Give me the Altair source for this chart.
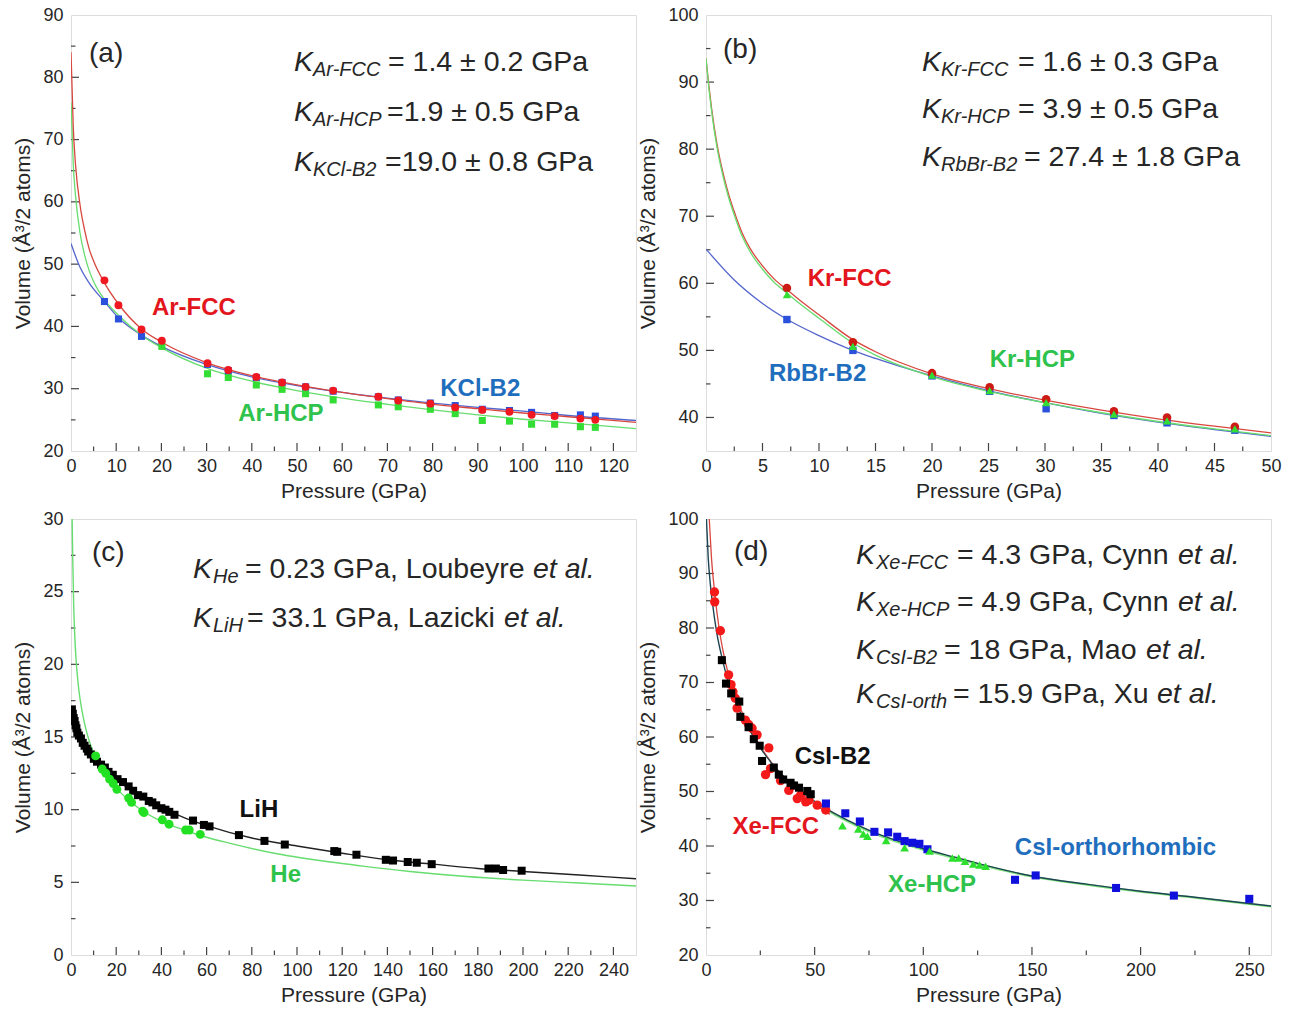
import altair as alt
import pandas as pd

FONT = "Liberation Sans"
INK = "#262626"

# ---------------- Panel (a): Ar / KCl ----------------
A_P_FCC = [7.4, 10.5, 15.6, 20.1, 30.2, 34.8, 41.0, 46.7, 51.9, 58.0, 68.0, 72.4, 79.5, 85.0, 91.0, 97.0, 101.9, 107.0, 112.7, 116.0]
A_V_FCC = [47.4, 43.4, 39.5, 37.7, 34.1, 33.0, 31.9, 31.0, 30.3, 29.7, 28.7, 28.1, 27.6, 27.0, 26.6, 26.3, 25.8, 25.6, 25.2, 25.0]
A_P_KCL = [7.4, 10.5, 15.6, 30.2, 34.8, 41.0, 46.7, 51.9, 58.0, 68.0, 72.4, 79.5, 85.0, 91.0, 97.0, 101.9, 107.0, 112.7, 116.0]
A_V_KCL = [44.0, 41.2, 38.4, 33.9, 32.9, 31.8, 31.0, 30.3, 29.6, 28.7, 28.2, 27.7, 27.3, 26.7, 26.5, 26.2, 25.7, 25.8, 25.6]
A_P_HCP = [20.1, 30.2, 34.8, 41.0, 46.7, 51.9, 58.0, 68.0, 72.4, 79.5, 85.0, 91.0, 97.0, 101.9, 107.0, 112.7, 116.0]
A_V_HCP = [36.8, 32.4, 31.8, 30.6, 29.9, 29.2, 28.2, 27.4, 27.1, 26.7, 26.0, 24.9, 24.8, 24.3, 24.3, 23.9, 23.8]
# fitted curves
A_CP_FCC = [0, 0.5, 1, 2, 3, 4, 5, 7.4, 10.5, 15.6, 20, 30, 40, 50, 60, 70, 80, 90, 100, 110, 125]
A_CV_FCC = [84, 72, 66, 59.5, 55.5, 52.5, 50.5, 47.0, 43.6, 39.6, 37.5, 34.2, 32.1, 30.6, 29.4, 28.4, 27.5, 26.8, 26.1, 25.5, 24.6]
A_CP_HCP = [0, 0.5, 1, 2, 3, 4, 5, 7.4, 10.5, 15.6, 20, 30, 40, 50, 60, 70, 80, 90, 100, 110, 125]
A_CV_HCP = [76, 66, 61, 55, 51.5, 49, 47.2, 44.3, 41.8, 38.6, 36.6, 33.3, 31.2, 29.7, 28.5, 27.5, 26.6, 25.8, 25.1, 24.5, 23.6]
A_CP_KCL = [0, 2, 4, 7.4, 10.5, 15.6, 20, 30, 40, 50, 60, 70, 80, 90, 100, 110, 125]
A_CV_KCL = [53.3, 49.5, 47.0, 44.0, 41.4, 38.6, 36.8, 33.9, 31.9, 30.5, 29.4, 28.5, 27.7, 27.0, 26.4, 25.7, 24.9]

# ---------------- Panel (b): Kr / RbBr ----------------
B_P = [7.16, 13.0, 20.0, 25.1, 30.1, 36.1, 40.8, 46.8]
B_V_FCC = [59.3, 51.2, 46.6, 44.5, 42.7, 40.9, 40.0, 38.6]
B_V_HCP = [58.3, 50.6, 46.3, 44.0, 42.2, 40.5, 39.5, 38.3]
B_V_RBBR = [54.6, 50.0, 46.2, 43.9, 41.3, 40.3, 39.2, 38.1]
B_CP_FCC = [0, 0.25, 0.5, 1, 1.5, 2, 2.6, 3.2, 3.9, 5, 6, 7.2, 8.5, 10, 13, 15, 20, 25, 30, 35, 40, 45, 50]
B_CV_FCC = [93.5, 89.5, 86.0, 80.5, 76.5, 73.3, 70.2, 67.5, 65.2, 62.6, 60.7, 59.0, 57.2, 55.3, 51.6, 49.8, 46.5, 44.3, 42.6, 41.1, 39.8, 38.7, 37.7]
B_CV_HCP = [93.5, 89.2, 85.6, 80.0, 76.0, 72.8, 69.7, 67.0, 64.7, 62.1, 60.2, 58.5, 56.7, 54.8, 51.1, 49.3, 46.1, 43.9, 42.2, 40.7, 39.4, 38.3, 37.3]
B_CP_RBBR = [0, 2.5, 5, 7.2, 10, 13, 15, 20, 25, 30, 35, 40, 45, 50]
B_CV_RBBR = [65.1, 60.5, 57.0, 54.6, 52.2, 50.0, 48.8, 46.2, 44.0, 42.2, 40.6, 39.3, 38.2, 37.2]

# ---------------- Panel (c): He / LiH ----------------
C_P_LIH = [0.4, 0.8, 1.2, 1.6, 2.0, 2.4, 2.8, 3.5, 4.4, 5.2, 6.0, 7.0, 7.6, 8.8, 10.1, 11.5, 13.3, 15.0, 16.6, 18.5,
           20.6, 23.0, 25.5, 27.5, 29.6, 32.0, 34.4, 36.0, 37.7, 40.0, 41.8, 43.5, 45.8, 54.0, 58.8, 61.3, 74.3, 85.6,
           94.6, 116.5, 117.8, 126.3, 139.3, 142.5, 149.0, 153.0, 159.6, 184.7, 188.0, 191.2, 199.4]
C_V_LIH = [16.9, 16.6, 16.3, 16.1, 15.8, 15.6, 15.3, 15.1, 14.9, 14.6, 14.4, 14.2, 14.0, 13.8, 13.5, 13.3, 13.1, 12.9, 12.6, 12.4,
           12.1, 11.9, 11.6, 11.3, 11.0, 10.9, 10.6, 10.5, 10.3, 10.1, 10.0, 9.85, 9.65, 9.25, 8.95, 8.85, 8.25, 7.85,
           7.6, 7.15, 7.1, 6.9, 6.55, 6.5, 6.4, 6.35, 6.25, 5.95, 5.95, 5.85, 5.8]
C_P_HE = [10.9, 13.8, 15.4, 17.1, 18.7, 20.3, 25.5, 26.8, 31.7, 32.3, 40.4, 43.4, 50.7, 52.3, 57.2]
C_V_HE = [13.7, 12.8, 12.5, 12.1, 11.8, 11.4, 10.8, 10.5, 9.9, 9.8, 9.3, 9.0, 8.6, 8.6, 8.3]
C_CP_LIH = [0, 5, 10, 20, 30, 40, 50, 60, 80, 100, 120, 140, 160, 180, 200, 225, 250]
C_CV_LIH = [17.0, 14.7, 13.6, 12.1, 11.0, 10.15, 9.45, 8.9, 8.05, 7.5, 7.0, 6.55, 6.25, 5.95, 5.75, 5.5, 5.25]
C_CP_HE = [0.3, 0.5, 0.8, 1.2, 1.8, 2.5, 3.5, 5, 7, 10, 15, 20, 30, 40, 50, 60, 70, 90, 110, 130, 150, 175, 200, 225, 250]
C_CV_HE = [33, 30, 27, 24, 21.5, 19.8, 18.2, 16.7, 15.3, 13.9, 12.5, 11.5, 10.1, 9.2, 8.6, 8.1, 7.7, 7.0, 6.5, 6.1, 5.75, 5.4, 5.15, 4.95, 4.75]

# ---------------- Panel (d): Xe / CsI ----------------
D_P_XEF = [3.9, 4.0, 6.6, 10.4, 11.5, 12.4, 13.5, 14.3, 18.1, 19.6, 21.2, 23.5, 28.9, 27.4, 29.7, 34.3, 38.1, 39.7, 42.0, 43.5, 45.9, 47.4, 51.2, 55.1]
D_V_XEF = [86.6, 84.8, 79.5, 71.4, 69.6, 68.3, 67.1, 65.3, 63.1, 62.3, 61.6, 60.4, 58.0, 53.1, 54.2, 52.0, 50.2, 51.1, 48.7, 49.3, 48.1, 48.4, 47.5, 46.6]
D_P_CSB2 = [7.3, 9.2, 11.6, 15.3, 15.8, 19.6, 22.0, 24.7, 25.8, 31.2, 33.5, 35.5, 38.9, 40.5, 42.8, 46.6, 48.2]
D_V_CSB2 = [74.1, 69.8, 68.0, 66.5, 63.7, 61.8, 59.6, 58.4, 55.6, 54.4, 53.1, 52.2, 51.6, 51.1, 50.7, 50.1, 49.5]
D_P_CSO = [55.2, 64.1, 70.8, 77.5, 83.8, 88.0, 91.4, 94.9, 98.2, 101.9, 142.2, 151.7, 188.7, 215.3, 250.0]
D_V_CSO = [47.8, 46.0, 44.5, 42.6, 42.5, 41.7, 40.9, 40.6, 40.4, 39.4, 33.8, 34.6, 32.3, 30.9, 30.3]
D_P_XEH = [62.8, 70.1, 72.4, 74.3, 82.9, 91.4, 102.9, 113.4, 116.3, 119.2, 123.0, 125.9, 128.7]
D_V_XEH = [43.7, 43.1, 42.2, 41.8, 41.0, 39.7, 39.1, 37.8, 37.8, 37.2, 36.7, 36.5, 36.3]
D_CP_CS = [0.2, 1, 2, 3, 5, 7.5, 10, 15, 20, 25, 30, 40, 50, 60, 70, 80, 90, 100, 115, 130, 150, 175, 200, 225, 260]
D_CV_CS = [100, 93, 88, 84.5, 79, 74.3, 70.5, 65.2, 61.3, 58.0, 55.3, 51.2, 48.2, 45.8, 43.8, 42.1, 40.7, 39.5, 37.9, 36.3, 34.5, 33.0, 31.7, 30.6, 29.0]
D_CP_XEF = [1.5, 2.5, 4, 6, 8, 10, 15, 20, 25, 30, 40, 50, 57]
D_CV_XEF = [100, 93, 86.5, 80, 75.5, 72, 66, 61.8, 58.3, 55.4, 51.0, 47.7, 45.8]
D_CP_XEH = [50, 60, 70, 80, 90, 100, 115, 130, 150, 175, 200, 225, 260]
D_CV_XEH = [48.0, 45.6, 43.6, 41.9, 40.5, 39.3, 37.7, 36.2, 34.4, 32.9, 31.6, 30.5, 28.9]

# ---------------- texts ----------------
Y_TITLE = "Volume (Å³/2 atoms)"
X_TITLE = "Pressure (GPa)"

RED, RED_L, RED_T = "#f01820", "#d8473f", "#e3161d"
BLU, BLU_L, BLU_T = "#2a50dc", "#5566cc", "#1f6ebd"
GRN, GRN_L, GRN_T = "#34dd34", "#66dd6e", "#2fc24c"

PW, PH = 565, 436


def df(**cols):
    return pd.DataFrame(cols)


def panel(xdom, ydom, xlab, ylab, xmaj, xmin, ymaj, ymin,
          curves, points, labels, annots, W=PW, H=PH):
    xs = alt.Scale(domain=xdom, nice=False, zero=False)
    ys = alt.Scale(domain=ydom, nice=False, zero=False)
    common = dict(grid=False, ticks=False, domain=False, labelFont=FONT, labelFontSize=18,
                  labelColor=INK, titleFont=FONT, titleFontSize=21, titleFontWeight="normal",
                  titleColor=INK, labelFlush=False, labelOverlap=False, format="d")
    xax = alt.Axis(values=xlab, title=X_TITLE, labelPadding=6, titlePadding=5, **common)
    yax = alt.Axis(values=ylab, title=Y_TITLE, labelPadding=8, titlePadding=9, **common)

    def X(f):
        return alt.X(f, type="quantitative", scale=xs, axis=xax)

    def Y(f):
        return alt.Y(f, type="quantitative", scale=ys, axis=yax)

    layers = []
    for vals, ln in ((xmaj, 8), (xmin, 4.5)):
        layers.append(alt.Chart(df(t=vals)).mark_rule(color="#444", strokeWidth=1.2).encode(
            x=X("t"), y=alt.value(H), y2=alt.value(H - ln)))
    for vals, ln in ((ymaj, 8), (ymin, 4.5)):
        layers.append(alt.Chart(df(t=vals)).mark_rule(color="#444", strokeWidth=1.2).encode(
            y=Y("t"), x=alt.value(0), x2=alt.value(ln)))
    for P, V, col, sw in curves:
        layers.append(alt.Chart(df(P=P, V=V)).mark_line(
            color=col, strokeWidth=sw, clip=True, interpolate="monotone").encode(x=X("P"), y=Y("V")))
    for P, V, col, shape, size in points:
        layers.append(alt.Chart(df(P=P, V=V)).mark_point(
            filled=True, shape=shape, size=size, color=col, opacity=1, clip=True).encode(x=X("P"), y=Y("V")))
    names, lp, lv, lc = labels
    layers.append(alt.Chart(df(t=names, P=lp, V=lv, c=lc)).mark_text(
        font=FONT, fontSize=24, fontWeight="bold", align="left", baseline="middle").encode(
        x=X("P"), y=Y("V"), text="t:N", color=alt.Color("c:N", scale=None)))
    for txt, px, py, size, style in annots:
        layers.append(alt.Chart(df(t=[txt])).mark_text(
            font=FONT, fontSize=size, fontStyle=style, align="left", baseline="middle", color=INK).encode(
            x=alt.value(px), y=alt.value(py), text="t:N"))
    return alt.layer(*layers).properties(width=W, height=H)


def k_line(sub, rest, etal, kx, y, subx, restx, etalx=None):
    out = [("K", kx, y, 28.5, "italic"), (sub, subx, y + 8, 20, "italic"), (rest, restx, y, 28.5, "normal")]
    if etal:
        out.append((etal, etalx, y, 28.5, "italic"))
    return out


annot_a = [("(a)", 18, 39, 28, "normal")]
annot_a += k_line("Ar-FCC", "= 1.4 ± 0.2 GPa", None, 223, 47, 242, 317)
annot_a += k_line("Ar-HCP", "=1.9 ± 0.5 GPa", None, 223, 97, 242, 316)
annot_a += k_line("KCl-B2", "=19.0 ± 0.8 GPa", None, 223, 147, 242, 314)

annot_b = [("(b)", 17, 35, 28, "normal")]
annot_b += k_line("Kr-FCC", "= 1.6 ± 0.3 GPa", None, 216, 47, 235, 312)
annot_b += k_line("Kr-HCP", "= 3.9 ± 0.5 GPa", None, 216, 94, 235, 312)
annot_b += k_line("RbBr-B2", "= 27.4 ± 1.8 GPa", None, 216, 142, 235, 318)

annot_c = [("(c)", 21, 34, 28, "normal")]
annot_c += k_line("He", "= 0.23 GPa, Loubeyre", "et al.", 122, 50, 142, 174, 462)
annot_c += k_line("LiH", "= 33.1 GPa, Lazicki", "et al.", 122, 99, 142, 176, 433)

annot_d = [("(d)", 28, 33, 28, "normal")]
annot_d += k_line("Xe-FCC", "= 4.3 GPa, Cynn", "et al.", 150, 36, 170, 251, 472)
annot_d += k_line("Xe-HCP", "= 4.9 GPa, Cynn", "et al.", 150, 83, 170, 251, 472)
annot_d += k_line("CsI-B2", "= 18 GPa, Mao", "et al.", 150, 131, 170, 238, 440)
annot_d += k_line("CsI-orth", "= 15.9 GPa, Xu", "et al.", 150, 175, 170, 247, 451)

pa = panel([0, 125], [20, 90],
           list(range(0, 121, 10)), list(range(20, 91, 10)),
           list(range(10, 121, 10)), list(range(5, 121, 10)),
           list(range(30, 81, 10)), list(range(25, 90, 10)),
           [(A_CP_KCL, A_CV_KCL, BLU_L, 1.3), (A_CP_HCP, A_CV_HCP, GRN_L, 1.3), (A_CP_FCC, A_CV_FCC, RED_L, 1.3)],
           [(A_P_HCP, A_V_HCP, GRN, "square", 50), (A_P_KCL, A_V_KCL, BLU, "square", 50),
            (A_P_FCC, A_V_FCC, RED, "circle", 62)],
           (["Ar-FCC", "KCl-B2", "Ar-HCP"], [17.9, 81.7, 37.0], [43.0, 29.9, 25.9], [RED_T, BLU_T, GRN_T]),
           annot_a)

pb = panel([0, 50], [35, 100],
           list(range(0, 51, 5)), list(range(40, 101, 10)),
           list(range(5, 50, 5)), [2.5, 7.5, 12.5, 17.5, 22.5, 27.5, 32.5, 37.5, 42.5, 47.5],
           list(range(40, 91, 10)), list(range(45, 100, 10)),
           [(B_CP_RBBR, B_CV_RBBR, BLU_L, 1.3), (B_CP_FCC, B_CV_FCC, RED_L, 1.3), (B_CP_FCC, B_CV_HCP, GRN_L, 1.3)],
           [(B_P, B_V_RBBR, BLU, "square", 55), (B_P, B_V_FCC, "#cc1a14", "circle", 75),
            (B_P, B_V_HCP, GRN, "triangle-up", 70)],
           (["Kr-FCC", "Kr-HCP", "RbBr-B2"], [9.0, 25.1, 5.57], [60.7, 48.5, 46.5], [RED_T, GRN_T, BLU_T]),
           annot_b)

pc = panel([0, 250], [0, 30],
           list(range(0, 241, 20)), list(range(0, 31, 5)),
           list(range(20, 241, 20)), list(range(10, 241, 20)),
           [5, 10, 15, 20, 25], [2.5, 7.5, 12.5, 17.5, 22.5, 27.5],
           [(C_CP_HE, C_CV_HE, GRN_L, 1.4), (C_CP_LIH, C_CV_LIH, "#222222", 1.4)],
           [(C_P_LIH, C_V_LIH, "#000000", "square", 64), (C_P_HE, C_V_HE, "#22e022", "circle", 80)],
           (["LiH", "He"], [74.6, 88.2], [10.0, 5.5], ["#111111", GRN_T]),
           annot_c)

pd_ = panel([0, 260], [20, 100],
            list(range(0, 251, 50)), list(range(20, 101, 10)),
            [50, 100, 150, 200, 250], [25, 75, 125, 175, 225],
            list(range(30, 91, 10)), list(range(25, 100, 10)),
            [(D_CP_XEH, D_CV_XEH, "#7ee07e", 2.2), (D_CP_XEF, D_CV_XEF, RED_L, 1.3), (D_CP_CS, D_CV_CS, "#1d4552", 1.4)],
            [(D_P_XEF, D_V_XEF, "#f41a1a", "circle", 88), (D_P_CSB2, D_V_CSB2, "#000000", "square", 65),
             (D_P_CSO, D_V_CSO, "#1010dc", "square", 65), (D_P_XEH, D_V_XEH, "#2ee02e", "triangle-up", 75)],
            (["CsI-B2", "Xe-FCC", "Xe-HCP", "CsI-orthorhombic"], [40.8, 12.2, 83.8, 142.1],
             [56.3, 43.5, 32.9, 39.7], ["#111111", RED_T, GRN_T, BLU_T]),
            annot_d)

chart = alt.concat(pa, pb, pc, pd_, columns=2, bounds="flush",
                   spacing={"row": 68, "column": 70}).properties(
    padding={"left": 12, "top": 5, "right": 5, "bottom": 5}
).configure_view(stroke="#444444", strokeWidth=1.6).configure(background="white")

chart.save("out.html", embed_options={"renderer": "svg", "actions": False})
